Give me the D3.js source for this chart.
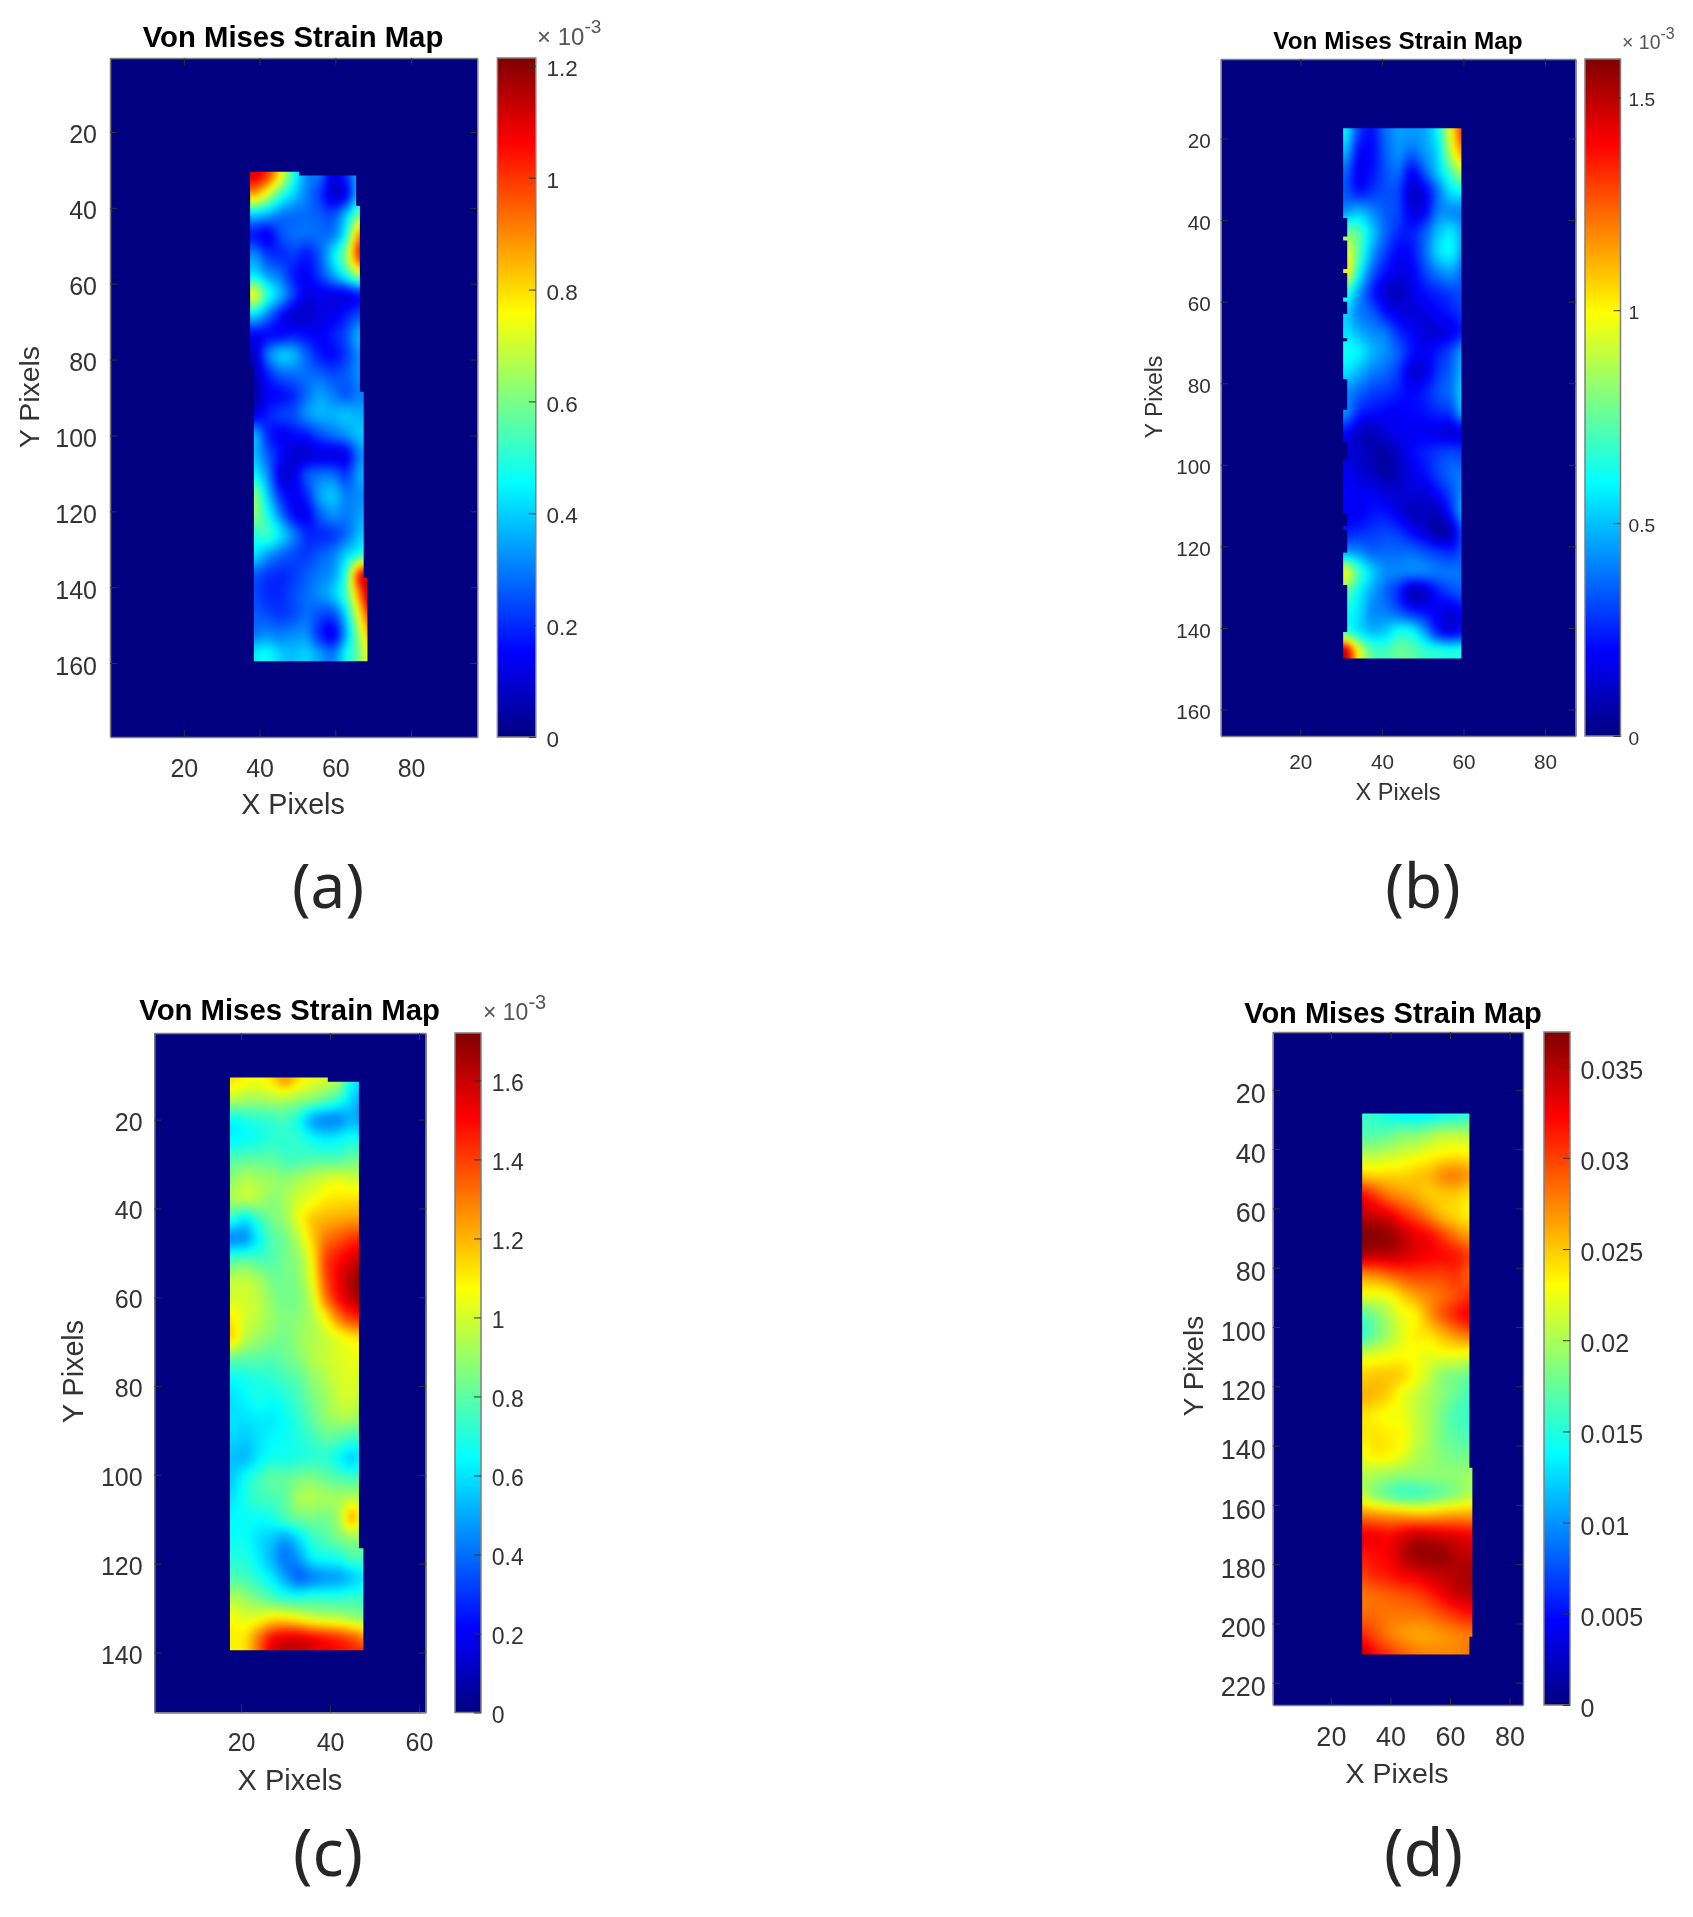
<!DOCTYPE html>
<html>
<head>
<meta charset="utf-8">
<script src="https://cdn.jsdelivr.net/npm/d3@7"></script>
<style>
body { margin: 0; background: #fff; }
svg { display: block; font-family: "Liberation Sans", Arial, sans-serif; filter: blur(0.5px); }
</style>
</head>
<body>
<div id="vis"></div>
<script>
// strain values, in colourbar units x100 (d: x10^-4)
const strainA = [
    [110,100,76,50,32,28,12,20,38,38],
    [85,70,52,40,30,22,10,15,40,40],
    [40,36,30,28,28,26,24,38,60,70],
    [18,14,24,28,28,28,30,48,88,90],
    [32,22,20,22,18,26,42,62,100,105],
    [44,34,28,18,15,22,34,48,66,70],
    [72,50,36,22,12,13,13,13,18,18],
    [42,30,18,10,9,12,13,18,24,26],
    [15,16,16,18,16,14,18,24,36,36],
    [8,28,38,36,26,18,16,22,32,32],
    [6,18,26,28,28,27,24,26,32,32],
    [5,14,16,20,28,34,30,26,30,30],
    [12,18,22,24,32,36,36,38,36,36],
    [36,20,14,16,18,24,28,32,38,38],
    [38,26,16,10,10,12,12,14,30,36],
    [46,32,12,12,24,28,28,22,34,38],
    [62,40,20,14,20,34,38,30,32,34],
    [62,48,30,16,14,26,32,30,34,40],
    [50,52,42,30,20,20,22,28,38,44],
    [42,34,28,24,22,26,30,40,50,60],
    [26,22,20,22,26,30,34,52,100,110],
    [24,20,20,24,28,32,38,54,90,120],
    [26,24,22,24,28,24,24,42,76,105],
    [30,32,30,32,32,20,14,36,65,90],
    [44,46,40,38,40,34,30,46,60,80]
];
const strainB = [
    [58,30,22,36,44,44,46,62,100,135],
    [48,22,20,34,42,36,44,56,92,118],
    [36,18,22,32,36,20,34,52,72,92],
    [34,24,28,32,30,12,18,38,56,58],
    [44,50,42,34,30,16,20,40,42,40],
    [78,72,52,36,26,24,34,50,56,42],
    [98,74,46,30,20,22,36,54,58,40],
    [104,64,36,22,16,18,30,40,44,34],
    [70,46,26,14,10,16,22,26,30,32],
    [54,40,34,22,16,14,16,20,24,30],
    [56,48,42,38,26,20,14,14,18,26],
    [62,58,48,42,34,22,18,24,32,48],
    [56,48,40,36,28,14,16,28,36,52],
    [42,36,30,28,24,20,24,32,38,56],
    [42,26,22,20,18,20,22,26,30,52],
    [22,12,9,14,18,18,18,16,14,18],
    [14,12,8,6,12,20,24,28,30,28],
    [18,14,10,6,10,16,22,30,36,38],
    [20,18,18,14,12,14,14,22,32,44],
    [20,18,22,22,16,10,10,10,26,50],
    [24,26,28,30,28,20,14,6,12,36],
    [46,42,36,36,36,36,32,28,26,34],
    [96,70,52,42,40,40,40,38,38,38],
    [76,60,46,36,26,10,12,24,30,34],
    [62,56,42,40,34,26,22,18,14,22],
    [72,58,50,52,62,60,44,24,18,24],
    [150,100,74,70,76,74,68,66,64,66]
];
const strainC = [
    [112,108,106,112,124,112,104,100,92,66,60],
    [96,92,92,94,94,90,86,80,72,58,46],
    [66,70,72,74,76,68,52,46,46,52,46],
    [64,66,68,72,72,72,66,62,64,68,64],
    [78,80,80,80,76,76,78,78,78,82,82],
    [88,94,92,90,88,92,96,100,102,100,100],
    [92,96,94,88,92,100,104,110,112,112,114],
    [70,62,74,84,90,104,116,120,122,124,124],
    [46,48,64,78,84,96,114,130,136,142,146],
    [76,78,76,78,84,90,108,138,148,156,160],
    [96,96,92,84,84,88,104,136,152,164,172],
    [100,100,96,88,84,86,98,128,148,160,168],
    [110,100,96,90,86,88,94,108,128,140,146],
    [112,96,90,86,84,90,94,98,104,110,112],
    [82,80,80,78,82,86,94,98,102,104,106],
    [66,68,70,72,76,80,88,94,100,102,100],
    [60,64,68,66,70,76,84,90,98,100,94],
    [60,60,62,62,66,72,80,88,92,92,86],
    [58,56,60,64,66,70,74,80,78,74,74],
    [54,54,62,68,68,70,72,72,66,58,66],
    [56,66,74,80,80,84,86,82,78,76,78],
    [60,68,74,76,80,92,94,92,92,96,96],
    [64,66,66,68,76,82,84,84,92,118,96],
    [66,66,60,56,50,60,72,78,84,90,88],
    [70,70,62,52,42,48,62,66,68,76,76],
    [78,76,70,62,50,40,44,48,50,56,62],
    [94,90,84,78,72,70,72,72,72,74,72],
    [106,102,104,110,110,106,100,98,96,92,88],
    [110,112,130,148,154,154,150,146,142,136,128],
    [108,112,132,156,160,160,156,152,150,148,146]
];
const strainD = [
    [160,155,145,140,138,140,145,150,155,155],
    [170,170,175,185,185,195,205,205,205,205],
    [205,205,210,215,222,228,235,238,235,235],
    [250,245,245,245,250,255,270,275,265,265],
    [320,300,280,270,260,250,250,250,240,240],
    [345,340,330,310,295,275,255,245,235,235],
    [368,365,360,345,330,320,300,280,265,265],
    [350,345,345,340,330,325,320,315,300,300],
    [270,275,285,295,300,300,300,305,290,290],
    [225,225,230,250,265,275,285,295,305,305],
    [170,185,205,225,235,265,290,310,325,325],
    [160,180,200,220,235,240,255,270,280,280],
    [215,220,225,230,228,222,225,225,222,222],
    [245,250,250,245,228,210,190,185,178,178],
    [258,254,245,225,212,200,188,175,165,165],
    [240,235,228,225,210,198,180,165,160,160],
    [236,240,236,230,212,198,180,170,165,165],
    [225,235,232,222,205,195,185,180,180,180],
    [205,200,195,190,190,190,190,190,195,195],
    [210,190,175,165,165,170,180,190,205,205],
    [275,270,265,262,258,258,262,265,265,265],
    [325,325,320,330,340,340,335,330,325,325],
    [315,320,325,345,358,360,360,350,345,345],
    [300,310,315,325,330,340,345,350,355,355],
    [280,285,290,295,300,310,325,340,345,345],
    [285,285,280,280,280,285,295,305,315,315],
    [310,295,280,270,265,265,270,275,280,280],
    [345,320,305,290,280,275,275,275,280,280]
];

// measured region of each specimen, as [yStart, yEnd, xStart, xEnd] in image pixels
const regionA = [[30.5,31.5,37.5,50.5],[31.5,39.5,37.5,65.5],[39.5,81.5,37.5,66.5],[81.5,88.5,38.5,66.5],[88.5,137.5,38.5,67.5],[137.5,159.5,38.5,68.5]];
const regionB = [[17.5,39.5,30.5,59.5],[39.5,44,31.5,59.5],[44,45,30.5,59.5],[45,52,31.5,59.5],[52,53,30.5,59.5],[53,59,31.5,59.5],[59,60,30.5,59.5],[60,63,31.5,59.5],[63,69,30.5,59.5],[69,69.7,31.5,59.5],[69.7,79,30.5,59.5],[79,86.5,31.5,59.5],[86.5,94.5,30.5,59.5],[94.5,98.5,31.5,59.5],[98.5,112,30.5,59.5],[112,115,31.5,59.5],[115,116,30.5,59.5],[116,121.5,31.5,59.5],[121.5,129.5,30.5,59.5],[129.5,141,31.5,59.5],[141,147.5,30.5,59.5]];
const regionC = [[10.5,11.5,17.5,39.5],[11.5,116.5,17.5,46.5],[116.5,139.5,17.5,47.5]];
const regionD = [[28,147.5,30.5,66.5],[147.5,204.5,30.5,67.5],[204.5,210.5,30.5,66.5]];

const xTicksA = [20,40,60,80], yTicksA = [20,40,60,80,100,120,140,160];
const xTicksB = [20,40,60,80], yTicksB = [20,40,60,80,100,120,140,160];
const xTicksC = [20,40,60], yTicksC = [20,40,60,80,100,120,140];
const xTicksD = [20,40,60,80], yTicksD = [20,40,60,80,100,120,140,160,180,200,220];

const barTicksA = [0,20,40,60,80,100,120], barLabelsA = ["0","0.2","0.4","0.6","0.8","1","1.2"];
const barTicksB = [0,50,100,150], barLabelsB = ["0","0.5","1","1.5"];
const barTicksC = [0,20,40,60,80,100,120,140,160], barLabelsC = ["0","0.2","0.4","0.6","0.8","1","1.2","1.4","1.6"];
const barTicksD = [0,50,100,150,200,250,300,350], barLabelsD = ["0","0.005","0.01","0.015","0.02","0.025","0.03","0.035"];

const panels = [
    {
        name: "a", values: strainA, region: regionA, maxValue: 121.4,
        xTicks: xTicksA, yTicks: yTicksA, barTicks: barTicksA, barLabels: barLabelsA,
        xlim: [0.5, 97.5], ylim: [0.5, 179.5],
        grid: { x0: 38.6, dx: 3.46, y0: 31.3, dy: 5.27 },
        box: { left: 110, right: 477.3, top: 58, bottom: 737 }, bar: { left: 497.4, right: 535.8 },
        tickFont: 25, tickGapX: 22, tickGapY: 13, tickShift: 3, barFont: 22.5, barGap: 10.7, barShift: 2.5,
        title: { x: 293, y: 46.5, size: 29.3 },
        xLabel: { x: 293, y: 814, size: 28.7 }, yLabel: { x: 38.7, y: 397, size: 28.4 },
        exponent: { x: 537, y: 45, size: 24, sup: 19 },
        letter: { x: 328, y: 908, size: 62 }
    },
    {
        name: "b", values: strainB, region: regionB, maxValue: 159,
        xTicks: xTicksB, yTicks: yTicksB, barTicks: barTicksB, barLabels: barLabelsB,
        xlim: [0.5, 87.5], ylim: [0.5, 166.5],
        grid: { x0: 30.95, dx: 3.27, y0: 18.47, dy: 4.9 },
        box: { left: 1220.8, right: 1575.6, top: 59, bottom: 736 }, bar: { left: 1585, right: 1620.5 },
        tickFont: 20.7, tickGapX: 18.5, tickGapY: 10, tickShift: 2.5, barFont: 19.2, barGap: 8, barShift: 2.5,
        title: { x: 1398, y: 49, size: 24.3 },
        xLabel: { x: 1398, y: 800, size: 23.6 }, yLabel: { x: 1162, y: 397, size: 23 },
        exponent: { x: 1622, y: 48.6, size: 19.5, sup: 16 },
        letter: { x: 1423, y: 908, size: 62 }
    },
    {
        name: "c", values: strainC, region: regionC, maxValue: 172,
        xTicks: xTicksC, yTicks: yTicksC, barTicks: barTicksC, barLabels: barLabelsC,
        xlim: [0.5, 61.5], ylim: [0.5, 153.5],
        grid: { x0: 17.9, dx: 3.0, y0: 10.95, dy: 4.49 },
        box: { left: 154.3, right: 425.7, top: 1033, bottom: 1712.5 }, bar: { left: 455, right: 481 },
        tickFont: 25, tickGapX: 21, tickGapY: 11.7, tickShift: 2.5, barFont: 23, barGap: 10.8, barShift: 2.5,
        title: { x: 289.6, y: 1020, size: 29.3 },
        xLabel: { x: 290, y: 1789.6, size: 29 }, yLabel: { x: 83, y: 1371.5, size: 28.7 },
        exponent: { x: 483, y: 1020, size: 23, sup: 20 },
        letter: { x: 328, y: 1876, size: 65 }
    },
    {
        name: "d", values: strainD, region: regionD, maxValue: 369,
        xTicks: xTicksD, yTicks: yTicksD, barTicks: barTicksD, barLabels: barLabelsD,
        xlim: [0.5, 84.5], ylim: [0.5, 227.5],
        grid: { x0: 30.5, dx: 4.48, y0: 28.5, dy: 6.745 },
        box: { left: 1272.8, right: 1523, top: 1032, bottom: 1705 }, bar: { left: 1544, right: 1570 },
        tickFont: 27, tickGapX: 22, tickGapY: 7, tickShift: 4.5, barFont: 25, barGap: 10.5, barShift: 3.5,
        title: { x: 1393, y: 1022.7, size: 29 },
        xLabel: { x: 1397, y: 1783, size: 28.5 }, yLabel: { x: 1203, y: 1366, size: 28 },
        exponent: null,
        letter: { x: 1423.4, y: 1876, size: 65 }
    }
];

// MATLAB jet
const jetStops = [0, 0.125, 0.375, 0.625, 0.875, 1];
const jetColors = ["#000080", "#0000ff", "#00ffff", "#ffff00", "#ff0000", "#800000"];

const axisGray = "#7f7f7f";
const tickDark = "#333";
const labelColor = "#333";

const svg = d3.select("#vis")
    .append("svg")
    .attr("width", 1693)
    .attr("height", 1917);

function cubic(p0, p1, p2, p3, t) {
    return p1 + 0.5 * t * (p2 - p0 + t * (2 * p0 - 5 * p1 + 4 * p2 - p3 + t * (3 * (p1 - p2) + p3 - p0)));
}

// draws the read values smoothly, like the shading of the original image
function sampleGrid(values, gx, gy) {
    const rows = values.length, cols = values[0].length;
    gx = Math.max(0, Math.min(cols - 1, gx));
    gy = Math.max(0, Math.min(rows - 1, gy));
    const ix = Math.floor(gx), iy = Math.floor(gy);
    const tx = gx - ix, ty = gy - iy;
    const col = i => Math.max(0, Math.min(cols - 1, i));
    const row = i => Math.max(0, Math.min(rows - 1, i));
    const across = r => cubic(values[r][col(ix - 1)], values[r][col(ix)], values[r][col(ix + 1)], values[r][col(ix + 2)], tx);
    return cubic(across(row(iy - 1)), across(row(iy)), across(row(iy + 1)), across(row(iy + 2)), ty);
}

function drawPanel(p) {
    const g = svg.append("g").attr("class", "panel-" + p.name);
    const box = p.box;

    const xScale = d3.scaleLinear().domain(p.xlim).range([box.left, box.right]);
    const yScale = d3.scaleLinear().domain(p.ylim).range([box.top, box.bottom]);
    const barScale = d3.scaleLinear().domain([0, p.maxValue]).range([box.bottom, box.top]);
    const jet = d3.scaleLinear()
        .domain(jetStops.map(s => s * p.maxValue))
        .range(jetColors)
        .clamp(true);

    const lut = d3.range(1024).map(i => d3.rgb(jet(i / 1023 * p.maxValue)));

    g.append("rect")
        .attr("x", box.left)
        .attr("y", box.top)
        .attr("width", box.right - box.left)
        .attr("height", box.bottom - box.top)
        .attr("fill", jet(0));

    // heat map, rendered to a canvas and clipped to the specimen
    const w = Math.ceil(box.right - box.left), h = Math.ceil(box.bottom - box.top);
    const canvas = document.createElement("canvas");
    canvas.width = w;
    canvas.height = h;
    const ctx = canvas.getContext("2d");
    const img = ctx.createImageData(w, h);
    for (let py = 0; py < h; py++) {
        const gy = (yScale.invert(box.top + py + 0.5) - p.grid.y0) / p.grid.dy;
        for (let px = 0; px < w; px++) {
            const gx = (xScale.invert(box.left + px + 0.5) - p.grid.x0) / p.grid.dx;
            const v = sampleGrid(p.values, gx, gy);
            const c = lut[Math.max(0, Math.min(1023, Math.round(v / p.maxValue * 1023)))];
            const k = (py * w + px) * 4;
            img.data[k] = c.r;
            img.data[k + 1] = c.g;
            img.data[k + 2] = c.b;
            img.data[k + 3] = 255;
        }
    }
    ctx.putImageData(img, 0, 0);

    // soften the result a little, the original is a resampled image
    const soft = document.createElement("canvas");
    soft.width = w;
    soft.height = h;
    const softCtx = soft.getContext("2d");
    softCtx.filter = "blur(2.5px)";
    softCtx.drawImage(canvas, 0, 0);

    const clipId = "region-" + p.name;
    g.append("clipPath")
        .attr("id", clipId)
        .selectAll("rect")
        .data(p.region)
        .enter()
        .append("rect")
        .attr("x", d => xScale(d[2]))
        .attr("y", d => yScale(d[0]))
        .attr("width", d => xScale(d[3]) - xScale(d[2]))
        .attr("height", d => yScale(d[1]) - yScale(d[0]));

    g.append("image")
        .attr("href", soft.toDataURL())
        .attr("x", box.left)
        .attr("y", box.top)
        .attr("width", w)
        .attr("height", h)
        .attr("clip-path", `url(#${clipId})`);

    // axes, ticks point inward on all four sides
    const bottomAxis = d3.axisBottom(xScale).tickValues(p.xTicks).tickSize(-7).tickSizeOuter(0).tickPadding(p.tickGapX);
    const leftAxis = d3.axisLeft(yScale).tickValues(p.yTicks).tickSize(-7).tickSizeOuter(0).tickPadding(p.tickGapY);
    const topAxis = d3.axisTop(xScale).tickValues(p.xTicks).tickSize(-7).tickSizeOuter(0).tickFormat("");
    const rightAxis = d3.axisRight(yScale).tickValues(p.yTicks).tickSize(-7).tickSizeOuter(0).tickFormat("");

    const axes = [
        g.append("g").attr("transform", `translate(0,${box.bottom})`).call(bottomAxis),
        g.append("g").attr("class", "y-axis").attr("transform", `translate(${box.left},0)`).call(leftAxis),
        g.append("g").attr("transform", `translate(0,${box.top})`).call(topAxis),
        g.append("g").attr("transform", `translate(${box.right},0)`).call(rightAxis)
    ];
    axes.forEach(a => {
        a.select(".domain").attr("stroke", axisGray).attr("stroke-width", 1.5);
        a.selectAll(".tick line").attr("stroke", tickDark);
        a.selectAll("text")
            .attr("fill", labelColor)
            .style("font-family", "inherit")
            .style("font-size", p.tickFont + "px");
    });
    g.select(".y-axis").selectAll("text").attr("transform", `translate(0,${p.tickShift})`);

    // colourbar
    const gradId = "jet-" + p.name;
    const grad = g.append("linearGradient")
        .attr("id", gradId)
        .attr("x1", 0).attr("y1", 1)
        .attr("x2", 0).attr("y2", 0);
    grad.selectAll("stop")
        .data(jetStops)
        .enter()
        .append("stop")
        .attr("offset", d => d)
        .attr("stop-color", (d, i) => jetColors[i]);

    g.append("rect")
        .attr("x", p.bar.left)
        .attr("y", box.top)
        .attr("width", p.bar.right - p.bar.left)
        .attr("height", box.bottom - box.top)
        .attr("fill", `url(#${gradId})`)
        .attr("stroke", axisGray)
        .attr("stroke-width", 1.5);

    const barAxis = d3.axisRight(barScale)
        .tickValues(p.barTicks)
        .tickFormat((d, i) => p.barLabels[i])
        .tickSize(-7)
        .tickSizeOuter(0)
        .tickPadding(p.barGap);
    const barGroup = g.append("g")
        .attr("transform", `translate(${p.bar.right},0)`)
        .call(barAxis);
    barGroup.select(".domain").remove();
    barGroup.selectAll(".tick line").attr("stroke", tickDark);
    barGroup.selectAll("text")
        .attr("fill", labelColor)
        .attr("transform", `translate(0,${p.barShift})`)
        .style("font-family", "inherit")
        .style("font-size", p.barFont + "px");

    // titles and labels
    g.append("text")
        .attr("x", p.title.x)
        .attr("y", p.title.y)
        .attr("text-anchor", "middle")
        .style("font-size", p.title.size + "px")
        .style("font-weight", "bold")
        .attr("fill", "#000")
        .text("Von Mises Strain Map");

    g.append("text")
        .attr("x", p.xLabel.x)
        .attr("y", p.xLabel.y)
        .attr("text-anchor", "middle")
        .style("font-size", p.xLabel.size + "px")
        .attr("fill", labelColor)
        .text("X Pixels");

    g.append("text")
        .attr("transform", `translate(${p.yLabel.x},${p.yLabel.y}) rotate(-90)`)
        .attr("text-anchor", "middle")
        .style("font-size", p.yLabel.size + "px")
        .attr("fill", labelColor)
        .text("Y Pixels");

    if (p.exponent) {
        const expo = g.append("text")
            .attr("x", p.exponent.x)
            .attr("y", p.exponent.y)
            .style("font-size", p.exponent.size + "px")
            .attr("fill", "#555");
        expo.append("tspan").text("\u00d7 10");
        expo.append("tspan")
            .attr("dy", -p.exponent.size * 0.5)
            .style("font-size", p.exponent.sup + "px")
            .text("-3");
    }

    g.append("text")
        .attr("x", p.letter.x)
        .attr("y", p.letter.y)
        .attr("text-anchor", "middle")
        .style("font-family", '"Noto Sans", sans-serif')
        .style("font-size", p.letter.size + "px")
        .attr("fill", "#262626")
        .text("(" + p.name + ")");
}

panels.forEach(drawPanel);
</script>
</body>
</html>
